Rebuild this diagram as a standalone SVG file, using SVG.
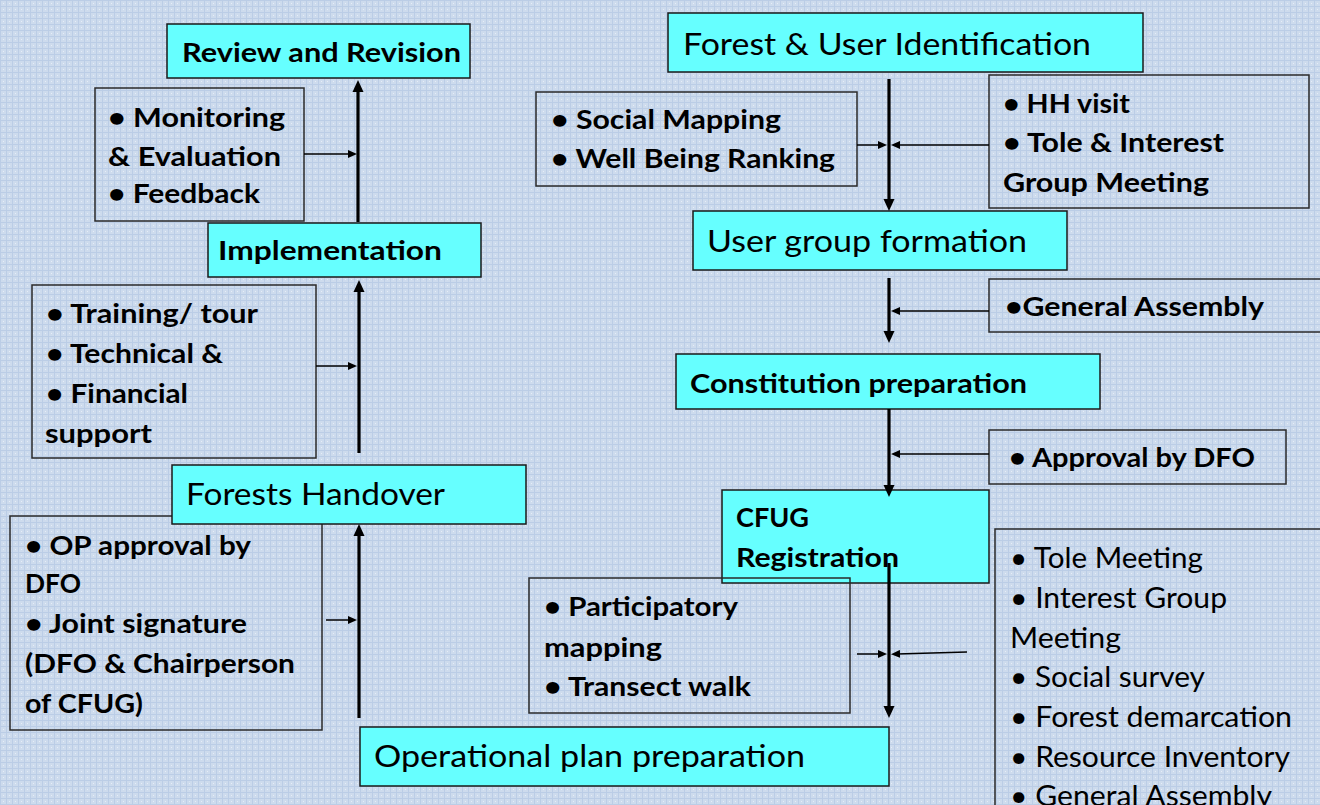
<svg xmlns="http://www.w3.org/2000/svg" width="1320" height="805" viewBox="0 0 1320 805">
<defs>
<pattern id="bg" width="6" height="6" patternUnits="userSpaceOnUse">
<rect width="6" height="6" fill="#cddbed"/>
<rect x="0" y="0" width="6" height="1" fill="#bbcde6"/>
<rect x="0" y="0" width="1" height="6" fill="#bbcde6"/>
<rect x="3" y="3" width="1" height="1" fill="#e6edf7"/>
</pattern>
<marker id="big" viewBox="0 0 12 12" refX="4" refY="6" markerWidth="12" markerHeight="12" markerUnits="userSpaceOnUse" orient="auto">
<path d="M0,0.5 L12,6 L0,11.5 z" fill="#000"/>
</marker>
<marker id="small" viewBox="0 0 9 8" refX="3" refY="4" markerWidth="9" markerHeight="8" markerUnits="userSpaceOnUse" orient="auto">
<path d="M0,0 L9,4 L0,8 z" fill="#000"/>
</marker>
<style>
.step{fill:#66ffff;stroke:#1a1a1a;stroke-width:1.5}
.list{fill:none;stroke:#2a2a2a;stroke-width:1.5}
text{font-family:Lato,"Open Sans","Liberation Sans",sans-serif;fill:#000}
.b{font-weight:bold;font-size:27.5px}
.r{font-size:31.5px}
.rl{font-size:28.5px}
.trunk{stroke:#000;stroke-width:3.2;fill:none;marker-end:url(#big)}
.feed{stroke:#000;stroke-width:1.5;fill:none;marker-end:url(#small)}
</style>
</defs>
<rect width="1320" height="805" fill="url(#bg)"/>

<g id="review">
<rect class="step" x="167" y="24" width="303" height="54"/>
<text class="b" x="182" y="62" textLength="279" lengthAdjust="spacingAndGlyphs">Review and Revision</text>
</g>
<g id="monitoring">
<rect class="list" x="95" y="88" width="209" height="133"/>
<text class="b" x="108" y="127" textLength="177" lengthAdjust="spacingAndGlyphs">• Monitoring</text>
<text class="b" x="108" y="166" textLength="173" lengthAdjust="spacingAndGlyphs">&amp; Evaluation</text>
<text class="b" x="108" y="203" textLength="152" lengthAdjust="spacingAndGlyphs">• Feedback</text>
</g>
<g id="implementation">
<rect class="step" x="208" y="223" width="273" height="54"/>
<text class="b" x="218" y="260" textLength="224" lengthAdjust="spacingAndGlyphs">Implementation</text>
</g>
<g id="training">
<rect class="list" x="32" y="285" width="284" height="173"/>
<text class="b" x="46" y="323" textLength="212" lengthAdjust="spacingAndGlyphs">• Training/ tour</text>
<text class="b" x="46" y="363" textLength="177" lengthAdjust="spacingAndGlyphs">• Technical &amp;</text>
<text class="b" x="46" y="403" textLength="142" lengthAdjust="spacingAndGlyphs">• Financial</text>
<text class="b" x="45" y="443" textLength="107" lengthAdjust="spacingAndGlyphs">support</text>
</g>
<g id="op-approval">
<rect class="list" x="10" y="516" width="312" height="214"/>
<text class="b" x="25" y="555" textLength="226" lengthAdjust="spacingAndGlyphs">• OP approval by</text>
<text class="b" x="25" y="593" textLength="56" lengthAdjust="spacingAndGlyphs">DFO</text>
<text class="b" x="25" y="633" textLength="222" lengthAdjust="spacingAndGlyphs">• Joint signature</text>
<text class="b" x="25" y="673" textLength="270" lengthAdjust="spacingAndGlyphs">(DFO &amp; Chairperson</text>
<text class="b" x="25" y="713" textLength="118" lengthAdjust="spacingAndGlyphs">of CFUG)</text>
</g>
<g id="handover">
<rect class="step" x="172" y="465" width="354" height="59"/>
<text class="r" x="186" y="505" textLength="259" lengthAdjust="spacingAndGlyphs">Forests Handover</text>
</g>
<g id="operational">
<rect class="step" x="360" y="727" width="529" height="59"/>
<text class="r" x="374" y="767" textLength="431" lengthAdjust="spacingAndGlyphs">Operational plan preparation</text>
</g>
<g id="cfug">
<rect class="step" x="722" y="490" width="267" height="93"/>
<text class="b" x="736" y="527" textLength="73" lengthAdjust="spacingAndGlyphs">CFUG</text>
<text class="b" x="736" y="567" textLength="163" lengthAdjust="spacingAndGlyphs">Registration</text>
</g>
<g id="participatory">
<rect class="list" x="529" y="578" width="321" height="135"/>
<text class="b" x="544" y="616" textLength="194" lengthAdjust="spacingAndGlyphs">• Participatory</text>
<text class="b" x="544" y="657" textLength="118" lengthAdjust="spacingAndGlyphs">mapping</text>
<text class="b" x="544" y="696" textLength="207" lengthAdjust="spacingAndGlyphs">• Transect walk</text>
</g>
<g id="field-activities">
<rect class="list" x="995" y="529" width="340" height="300"/>
<text class="rl" x="1010" y="568" textLength="193" lengthAdjust="spacingAndGlyphs">• Tole Meeting</text>
<text class="rl" x="1010" y="608" textLength="217" lengthAdjust="spacingAndGlyphs">• Interest Group</text>
<text class="rl" x="1010" y="648" textLength="111" lengthAdjust="spacingAndGlyphs">Meeting</text>
<text class="rl" x="1010" y="687" textLength="195" lengthAdjust="spacingAndGlyphs">• Social survey</text>
<text class="rl" x="1010" y="727" textLength="282" lengthAdjust="spacingAndGlyphs">• Forest demarcation</text>
<text class="rl" x="1010" y="767" textLength="280" lengthAdjust="spacingAndGlyphs">• Resource Inventory</text>
<text class="rl" x="1010" y="806" textLength="262" lengthAdjust="spacingAndGlyphs">• General Assembly</text>
</g>
<g id="approval">
<rect class="list" x="989" y="430" width="297" height="54"/>
<text class="b" x="1009" y="467" textLength="246" lengthAdjust="spacingAndGlyphs">• Approval by DFO</text>
</g>
<g id="constitution">
<rect class="step" x="676" y="354" width="424" height="55"/>
<text class="b" x="690" y="393" textLength="337" lengthAdjust="spacingAndGlyphs">Constitution preparation</text>
</g>
<g id="general-assembly">
<rect class="list" x="989" y="279" width="340" height="53"/>
<text class="b" x="1005" y="316" textLength="259" lengthAdjust="spacingAndGlyphs">•General Assembly</text>
</g>
<g id="user-group">
<rect class="step" x="693" y="211" width="374" height="59"/>
<text class="r" x="707" y="252" textLength="320" lengthAdjust="spacingAndGlyphs">User group formation</text>
</g>
<g id="identification">
<rect class="step" x="668" y="13" width="475" height="59"/>
<text class="r" x="683" y="55" textLength="408" lengthAdjust="spacingAndGlyphs">Forest &amp; User Identification</text>
</g>
<g id="social">
<rect class="list" x="536" y="92" width="321" height="94"/>
<text class="b" x="551" y="129" textLength="230" lengthAdjust="spacingAndGlyphs">• Social Mapping</text>
<text class="b" x="551" y="168" textLength="284" lengthAdjust="spacingAndGlyphs">• Well Being Ranking</text>
</g>
<g id="hh">
<rect class="list" x="989" y="75" width="320" height="133"/>
<text class="b" x="1003" y="113" textLength="127" lengthAdjust="spacingAndGlyphs">• HH visit</text>
<text class="b" x="1003" y="152" textLength="221" lengthAdjust="spacingAndGlyphs">• Tole &amp; Interest</text>
<text class="b" x="1003" y="192" textLength="206" lengthAdjust="spacingAndGlyphs">Group Meeting</text>
</g>

<g id="connectors">
<line class="trunk" x1="358" y1="222" x2="358" y2="88"/>
<line class="feed" x1="304" y1="154" x2="351" y2="154"/>
<line class="trunk" x1="359" y1="453" x2="359" y2="288"/>
<line class="feed" x1="316" y1="366" x2="351" y2="366"/>
<line class="trunk" x1="359" y1="718" x2="359" y2="532"/>
<line class="feed" x1="326" y1="620" x2="351" y2="620"/>
<line class="trunk" x1="889" y1="79" x2="889" y2="203"/>
<line class="feed" x1="857" y1="145" x2="881" y2="145"/>
<line class="feed" x1="989" y1="145" x2="897" y2="145"/>
<line class="trunk" x1="889" y1="278" x2="889" y2="335"/>
<line class="feed" x1="989" y1="311" x2="897" y2="311"/>
<line class="trunk" x1="889" y1="409" x2="889" y2="489"/>
<line class="feed" x1="989" y1="454" x2="897" y2="454"/>
<line class="trunk" x1="889" y1="563" x2="889" y2="710"/>
<line class="feed" x1="857" y1="654" x2="881" y2="654"/>
<line class="feed" x1="967" y1="652" x2="897" y2="654"/>
</g>
</svg>
